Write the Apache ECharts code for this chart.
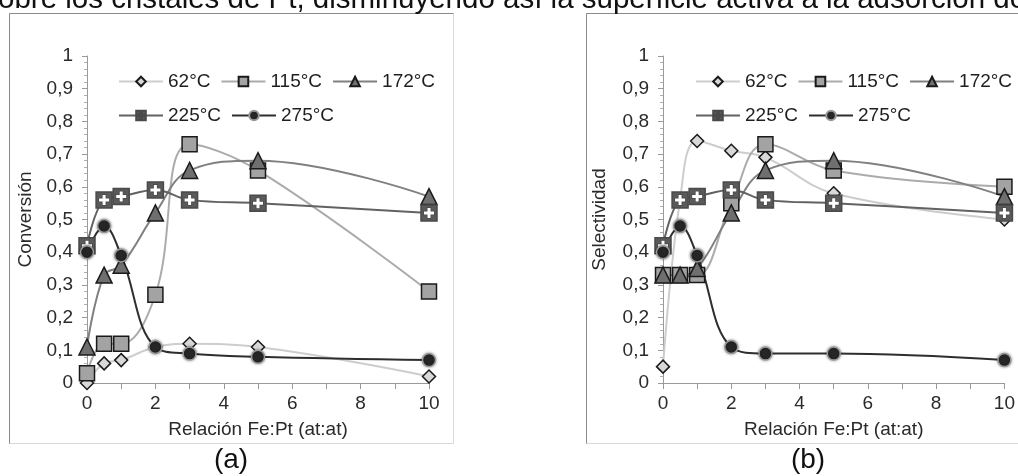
<!DOCTYPE html>
<html>
<head>
<meta charset="utf-8">
<script src="https://cdn.jsdelivr.net/npm/echarts@6/dist/echarts.min.js"></script>
<style>
  html, body { margin: 0; padding: 0; background: #fff; }
  #main { width: 1018px; height: 476px; }
</style>
</head>
<body>
<div id="main"></div>
<script>
// relación Fe:Pt (eje x), común a las dos gráficas
const ratios = [0, 0.5, 1, 2, 3, 5, 10];
const tempNames = ['62°C', '115°C', '172°C', '225°C', '275°C'];

// (a) Conversión
const conv62  = [0.00, 0.06, 0.07, 0.11, 0.12, 0.11, 0.02];
const conv115 = [0.03, 0.12, 0.12, 0.27, 0.73, 0.65, 0.28];
const conv172 = [0.11, 0.33, 0.36, 0.52, 0.65, 0.68, 0.57];
const conv225 = [0.42, 0.56, 0.57, 0.59, 0.56, 0.55, 0.52];
const conv275 = [0.40, 0.48, 0.39, 0.11, 0.09, 0.08, 0.07];

// (b) Selectividad
const sel62  = [0.05, 0.56, 0.74, 0.71, 0.69, 0.58, 0.50];
const sel115 = [0.33, 0.33, 0.33, 0.55, 0.73, 0.65, 0.60];
const sel172 = [0.33, 0.33, 0.35, 0.52, 0.65, 0.68, 0.57];
const sel225 = [0.42, 0.56, 0.57, 0.59, 0.56, 0.55, 0.52];
const sel275 = [0.40, 0.48, 0.39, 0.11, 0.09, 0.09, 0.07];

// estilos de cada temperatura
const styles = {
  '62°C':  { line: '#cdcdcd', fill: '#d8d8d8', symbol: 'diamond', size: 13, border: '#1a1a1a' },
  '115°C': { line: '#ababab', fill: '#a3a3a3', symbol: 'rect', size: 15, border: '#1a1a1a' },
  '172°C': { line: '#808080', fill: '#6f6f6f', symbol: 'triangle', size: 16, border: '#1a1a1a' },
  '225°C': { line: '#626262', fill: '#5a5a5a', size: 16, border: '#4a4a4a',
             symbol: 'path://M0 0H16V16H0Z M6.5 3V6.5H3V9.5H6.5V13H9.5V9.5H13V6.5H9.5V3Z' },
  '275°C': { line: '#2e2e2e', fill: '#262626', symbol: 'circle', size: 13, border: '#9a9a9a' }
};
const plusPath = 'path://M6.5 3H9.5V6.5H13V9.5H9.5V13H6.5V9.5H3V6.5H6.5Z';

const font = 'Liberation Sans, Arial, sans-serif';

function pairs(arr) {
  return ratios.map((x, i) => [x, arr[i]]);
}

function makeSeries(name, arr, idx) {
  const st = styles[name];
  return {
    name: name,
    type: 'line',
    xAxisIndex: idx,
    yAxisIndex: idx,
    data: pairs(arr),
    smooth: 0.4,
    symbol: st.symbol,
    symbolSize: st.size,
    lineStyle: { color: st.line, width: 2 },
    itemStyle: name === '275°C'
      ? { color: st.fill, borderColor: st.border, borderWidth: 1.5, shadowBlur: 3, shadowColor: 'rgba(0,0,0,0.35)' }
      : { color: st.fill, borderColor: st.border, borderWidth: 1.5 },
    emphasis: { disabled: true },
    animation: false
  };
}

// cruz blanca encima de los cuadrados de 225°C
function plusOverlay(arr, idx) {
  return {
    name: '225-plus',
    type: 'line',
    xAxisIndex: idx,
    yAxisIndex: idx,
    data: pairs(arr),
    symbol: plusPath,
    symbolSize: 16 * 10 / 16,
    lineStyle: { opacity: 0, width: 0 },
    itemStyle: { color: '#ffffff', borderWidth: 0 },
    silent: true,
    emphasis: { disabled: true },
    animation: false
  };
}

function xAxisCfg(idx) {
  return {
    gridIndex: idx,
    type: 'value',
    min: 0, max: 10, interval: 2,
    name: 'Relación Fe:Pt (at:at)',
    nameLocation: 'middle',
    nameGap: 37,
    nameTextStyle: { fontFamily: font, fontSize: 19, color: '#2a2a2a' },
    axisLine: { lineStyle: { color: '#9a9a9a', width: 1 } },
    axisTick: { show: true, length: 6, lineStyle: { color: '#9a9a9a' } },
    minorTick: { show: true, splitNumber: 2, length: 6, lineStyle: { color: '#9a9a9a' } },
    axisLabel: { fontFamily: font, fontSize: 19, color: '#2a2a2a', margin: 11 },
    splitLine: { show: false }
  };
}

function yAxisCfg(idx, name, gap) {
  return {
    gridIndex: idx,
    type: 'value',
    min: 0, max: 1, interval: 0.1,
    name: name,
    nameLocation: 'middle',
    nameGap: gap,
    nameTextStyle: { fontFamily: font, fontSize: 19, color: '#2a2a2a' },
    axisLine: { show: true, lineStyle: { color: '#9a9a9a', width: 1 } },
    axisTick: { show: true, length: 5, lineStyle: { color: '#9a9a9a' } },
    minorTick: { show: true, splitNumber: 5, length: 3, lineStyle: { color: '#b0b0b0' } },
    axisLabel: {
      fontFamily: font, fontSize: 19, color: '#2a2a2a', margin: 14,
      formatter: v => String(Math.round(v * 10) / 10).replace('.', ',')
    },
    splitLine: { show: false }
  };
}

function legendRow(names, left, top) {
  return {
    data: names,
    left: left,
    top: top,
    orient: 'horizontal',
    itemWidth: 44,
    itemHeight: 12,
    itemGap: 10,
    selectedMode: false,
    textStyle: { fontFamily: font, fontSize: 19, color: '#1e1e1e', width: 52 }
  };
}

const chart = echarts.init(document.getElementById('main'), null, { renderer: 'canvas' });

chart.setOption({
  backgroundColor: '#ffffff',
  animation: false,
  grid: [
    { left: 87, top: 56, width: 342, height: 327 },
    { left: 663, top: 56, width: 344, height: 327 }
  ],
  xAxis: [xAxisCfg(0), xAxisCfg(1)],
  yAxis: [yAxisCfg(0, 'Conversión', 52), yAxisCfg(1, 'Selectividad', 54)],
  legend: [
    legendRow(tempNames.slice(0, 3), 113, 67),
    legendRow(tempNames.slice(3), 113, 101),
    legendRow(tempNames.slice(0, 3), 690, 67),
    legendRow(tempNames.slice(3), 690, 101)
  ],
  series: [
    makeSeries('62°C', conv62, 0),
    makeSeries('115°C', conv115, 0),
    makeSeries('172°C', conv172, 0),
    makeSeries('225°C', conv225, 0),
    plusOverlay(conv225, 0),
    makeSeries('275°C', conv275, 0),
    makeSeries('62°C', sel62, 1),
    makeSeries('115°C', sel115, 1),
    makeSeries('172°C', sel172, 1),
    makeSeries('225°C', sel225, 1),
    plusOverlay(sel225, 1),
    makeSeries('275°C', sel275, 1)
  ],
  graphic: [
    // texto del documento recortado arriba
    { type: 'text', left: -2, top: -15, z: 10,
      style: { text: 'obre los cristales de Pt, disminuyendo así la superficie activa a la adsorción de',
               font: '29.5px ' + font, fill: '#111' } },
    // marcos de las gráficas
    { type: 'rect', shape: { x: 9.5, y: 13.5, width: 444, height: 430 },
      style: { fill: 'none', stroke: '#d9d9d9', lineWidth: 1 }, z: -1 },
    { type: 'polyline', shape: { points: [[9.5, 443.5], [9.5, 13.5], [453.5, 13.5]] },
      style: { fill: 'none', stroke: '#8a8a8a', lineWidth: 1 }, z: -1 },
    { type: 'rect', shape: { x: 586.5, y: 13.5, width: 440, height: 430 },
      style: { fill: 'none', stroke: '#d9d9d9', lineWidth: 1 }, z: -1 },
    { type: 'polyline', shape: { points: [[586.5, 443.5], [586.5, 13.5], [1018, 13.5]] },
      style: { fill: 'none', stroke: '#8a8a8a', lineWidth: 1 }, z: -1 },
    // etiquetas (a) y (b)
    { type: 'text', x: 231, y: 460, z: 10,
      style: { text: '(a)', font: '28px ' + font, fill: '#111', align: 'center', verticalAlign: 'middle' } },
    { type: 'text', x: 808, y: 460, z: 10,
      style: { text: '(b)', font: '28px ' + font, fill: '#111', align: 'center', verticalAlign: 'middle' } }
  ]
});
</script>
</body>
</html>
